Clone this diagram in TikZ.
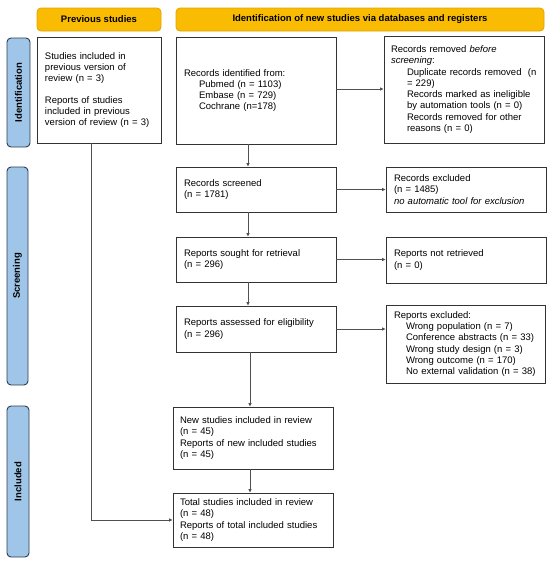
\documentclass[tikz,border=0pt]{standalone}
\usepackage{fontspec}
\setmainfont{Liberation Sans}
\usetikzlibrary{arrows.meta}
\definecolor{hdr}{HTML}{F9BC02}
\definecolor{hdrline}{HTML}{E0A400}
\definecolor{side}{HTML}{9FC5E8}
\definecolor{sideline}{HTML}{2E3B4E}
\definecolor{boxline}{HTML}{333333}
\definecolor{arrline}{HTML}{505050}
\begin{document}
\begin{tikzpicture}[x=1pt,y=-1pt,
  every node/.style={font=\fontsize{9.5}{11.3}\selectfont},
  hdrbox/.style={draw=hdrline, fill=hdr, rounded corners=4pt, line width=0.8pt,
    font=\fontsize{9.5}{11.3}\selectfont\bfseries, inner sep=0pt, minimum height=23pt},
  sidebox/.style={draw=sideline, fill=side, rounded corners=4pt, line width=0.9pt,
    rotate=90, font=\fontsize{9.5}{11.3}\selectfont\bfseries, inner sep=0pt},
  flowbox/.style={draw=boxline, line width=0.8pt, align=left, inner ysep=0pt, inner xsep=8pt},
  arr/.style={draw=arrline, line width=0.8pt, -{Latex[length=3.5pt,width=3.5pt]}}
]
\useasboundingbox (0,0) rectangle (550,563);

% headers
\node[hdrbox, minimum width=124pt] (hprev) at (99,19.5) {Previous studies};
\node[hdrbox, minimum width=368pt] (hnew) at (360,19.5) {Identification of new studies via databases and registers};

% side labels
\node[sidebox, minimum width=109pt, minimum height=23pt] (sid) at (18.5,92.5) {Identification};
\node[sidebox, minimum width=218pt, minimum height=21pt] (sscr) at (17.5,276) {Screening};
\node[sidebox, minimum width=151pt, minimum height=22pt] (sinc) at (18,481.5) {Included};

% boxes
\node[flowbox, text width=108pt, minimum height=106pt] (prev) at (99,90)
  {Studies included in\\ previous version of\\ review (n = 3)\\[10pt]
   Reports of studies\\ included in previous\\ version of review (n = 3)};

\node[flowbox, text width=144pt, minimum height=107pt] (ident) at (256,90.5)
  {Records identified from:\\
   \hspace*{15pt}Pubmed (n = 1103)\\
   \hspace*{15pt}Embase (n = 729)\\
   \hspace*{15pt}Cochrane (n=178)};

\node[flowbox, inner xsep=7pt, text width=146pt, minimum height=107pt] (removed) at (464,89.5)
  {Records removed \textit{before}\\
   \textit{screening}:\\
   \hspace*{16pt}\mbox{Duplicate records removed\ \ (n}\\
   \hspace*{16pt}= 229)\\
   \hspace*{16pt}\mbox{Records marked as ineligible}\\
   \hspace*{16pt}by automation tools (n = 0)\\
   \hspace*{16pt}Records removed for other\\
   \hspace*{16pt}reasons (n = 0)};

\node[flowbox, text width=144pt, minimum height=45pt] (screened) at (256,189.5)
  {Records screened\\ (n = 1781)};
\node[flowbox, text width=144pt, minimum height=45pt] (excl) at (466,189.5)
  {Records excluded\\ (n = 1485)\\ \textit{no automatic tool for exclusion}};

\node[flowbox, text width=144pt, minimum height=45pt] (sought) at (256,259.5)
  {Reports sought for retrieval\\ (n = 296)};
\node[flowbox, text width=144pt, minimum height=46pt] (notret) at (466,260)
  {Reports not retrieved\\ (n = 0)};

\node[flowbox, text width=144pt, minimum height=46pt] (assessed) at (256,329)
  {Reports assessed for eligibility\\ (n = 296)};
\node[flowbox, text width=143pt, minimum height=78pt] (repexcl) at (465.5,344)
  {Reports excluded:\\
   \hspace*{12pt}Wrong population (n = 7)\\
   \hspace*{12pt}\mbox{Conference abstracts (n = 33)}\\
   \hspace*{12pt}Wrong study design (n = 3)\\
   \hspace*{12pt}Wrong outcome (n = 170)\\
   \hspace*{12pt}\mbox{No external validation (n = 38)}};

\node[flowbox, inner xsep=7pt, text width=146pt, minimum height=62pt] (newinc) at (253,438)
  {New studies included in review\\ (n = 45)\\ Reports of new included studies\\ (n = 45)};
\node[flowbox, inner xsep=7pt, text width=146pt, minimum height=54pt] (total) at (253,520)
  {Total studies included in review\\ (n = 48)\\ Reports of total included studies\\ (n = 48)};

% helper coordinates
\coordinate (cx) at (248,0);
\coordinate (cx2) at (250,0);
\coordinate (lx) at (91,0);
\coordinate (ry) at (0,89);

% connectors
\draw[arr] (ident.south -| cx) -- (screened.north -| cx);
\draw[arr] (screened.south -| cx) -- (sought.north -| cx);
\draw[arr] (sought.south -| cx) -- (assessed.north -| cx);
\draw[arr] (assessed.south -| cx2) -- (newinc.north -| cx2);
\draw[arr] (newinc.south -| cx2) -- (total.north -| cx2);

\draw[arr] (ident.east |- ry) -- (removed.west |- ry);
\draw[arr] (screened.east) -- (screened.east -| excl.west);
\draw[arr] (sought.east) -- (sought.east -| notret.west);
\draw[arr] (assessed.east) -- (assessed.east -| repexcl.west);

\draw[arr] (prev.south -| lx) |- (total.west);
\end{tikzpicture}
\end{document}
